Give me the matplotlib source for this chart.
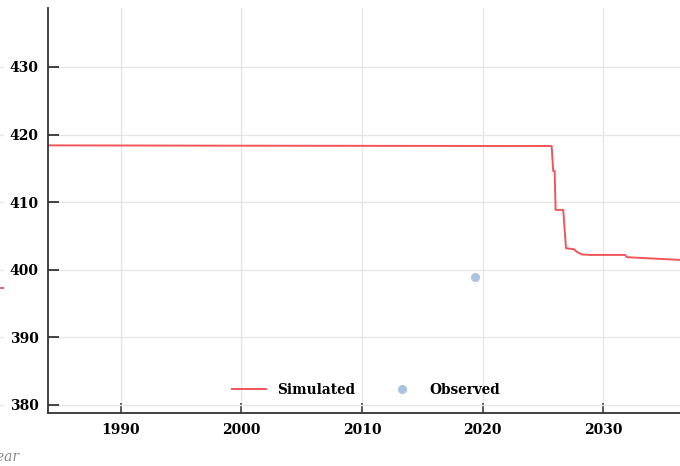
import numpy as np
import matplotlib.pyplot as plt

# Simulated series (year, value)
sim_years = [1984.0, 2000.0, 2025.72, 2025.85, 2025.97, 2026.05, 2026.68,
             2026.91, 2027.57, 2027.82, 2028.23, 2028.9, 2031.8, 2031.97, 2036.4]
sim_values = [418.4, 418.35, 418.3, 414.6, 414.6, 408.85, 408.85,
              403.18, 403.03, 402.63, 402.26, 402.19, 402.19, 401.85, 401.45]

# Observed point
obs_years = [2019.37]
obs_values = [398.9]

# trailing value of the neighbouring panel on the left
prev_x = [0.0, 1.0]
prev_values = [397.3, 397.3]

x_ticks = [1990, 2000, 2010, 2020, 2030]
y_ticks = [380, 390, 400, 410, 420, 430]

plt.rcParams['font.family'] = 'DejaVu Serif'

W, H = 680, 466
fig = plt.figure(figsize=(W / 100, H / 100), dpi=100)

# neighbouring panel, only its right end is visible
ax0 = fig.add_axes([-0.3, (H - 413) / H, 0.3 + 4 / W, 405.5 / H])
ax0.set_xlim(0, 1)
ax0.set_ylim(378.8, 438.8)
for s in ax0.spines.values():
    s.set_visible(False)
ax0.set_xticks([])
ax0.set_yticks(y_ticks)
ax0.tick_params(left=False, labelleft=False)
ax0.grid(axis='y', color='#e6e6e6', linewidth=1)
ax0.plot(prev_x, prev_values, color='#f0555a', linewidth=1.3)
fig.text(19 / W, (H - 457) / H, 'Year', ha='right', va='center',
         fontstyle='italic', color='#8a8a8a', fontsize=10)

ax = fig.add_axes([48.3 / W, (H - 413) / H, (W - 48.3) / W, 405.5 / H])
ax.set_xlim(1984.0, 2036.36)
ax.set_ylim(378.8, 438.8)

ax.plot(sim_years, sim_values, color='#f0555a', linewidth=1.4, label='Simulated')
ax.plot(obs_years, obs_values, linestyle='none', marker='o', markersize=5.5,
        color='#a9c4de', label='Observed')

ax.set_xticks(x_ticks)
ax.set_yticks(y_ticks)
ax.grid(color='#e6e6e6', linewidth=1)
ax.set_axisbelow(True)

for side in ['top', 'right']:
    ax.spines[side].set_visible(False)
for side in ['left', 'bottom']:
    ax.spines[side].set_color('#333333')
    ax.spines[side].set_linewidth(1.3)

ax.tick_params(axis='y', direction='in', length=8, width=1.3, color='#333333',
               pad=7, labelsize=10)
ax.tick_params(axis='x', direction='in', length=7, width=1.1, color='#333333',
               pad=7, labelsize=10)
for lab in ax.get_xticklabels() + ax.get_yticklabels():
    lab.set_fontweight('bold')

leg = ax.legend(loc='center', bbox_to_anchor=(0.503, 0.057), ncol=2,
                frameon=False, handlelength=2.5, handletextpad=0.8,
                columnspacing=2.2, prop={'weight': 'bold', 'size': 9.8})

fig.savefig('out.png', dpi=100)
